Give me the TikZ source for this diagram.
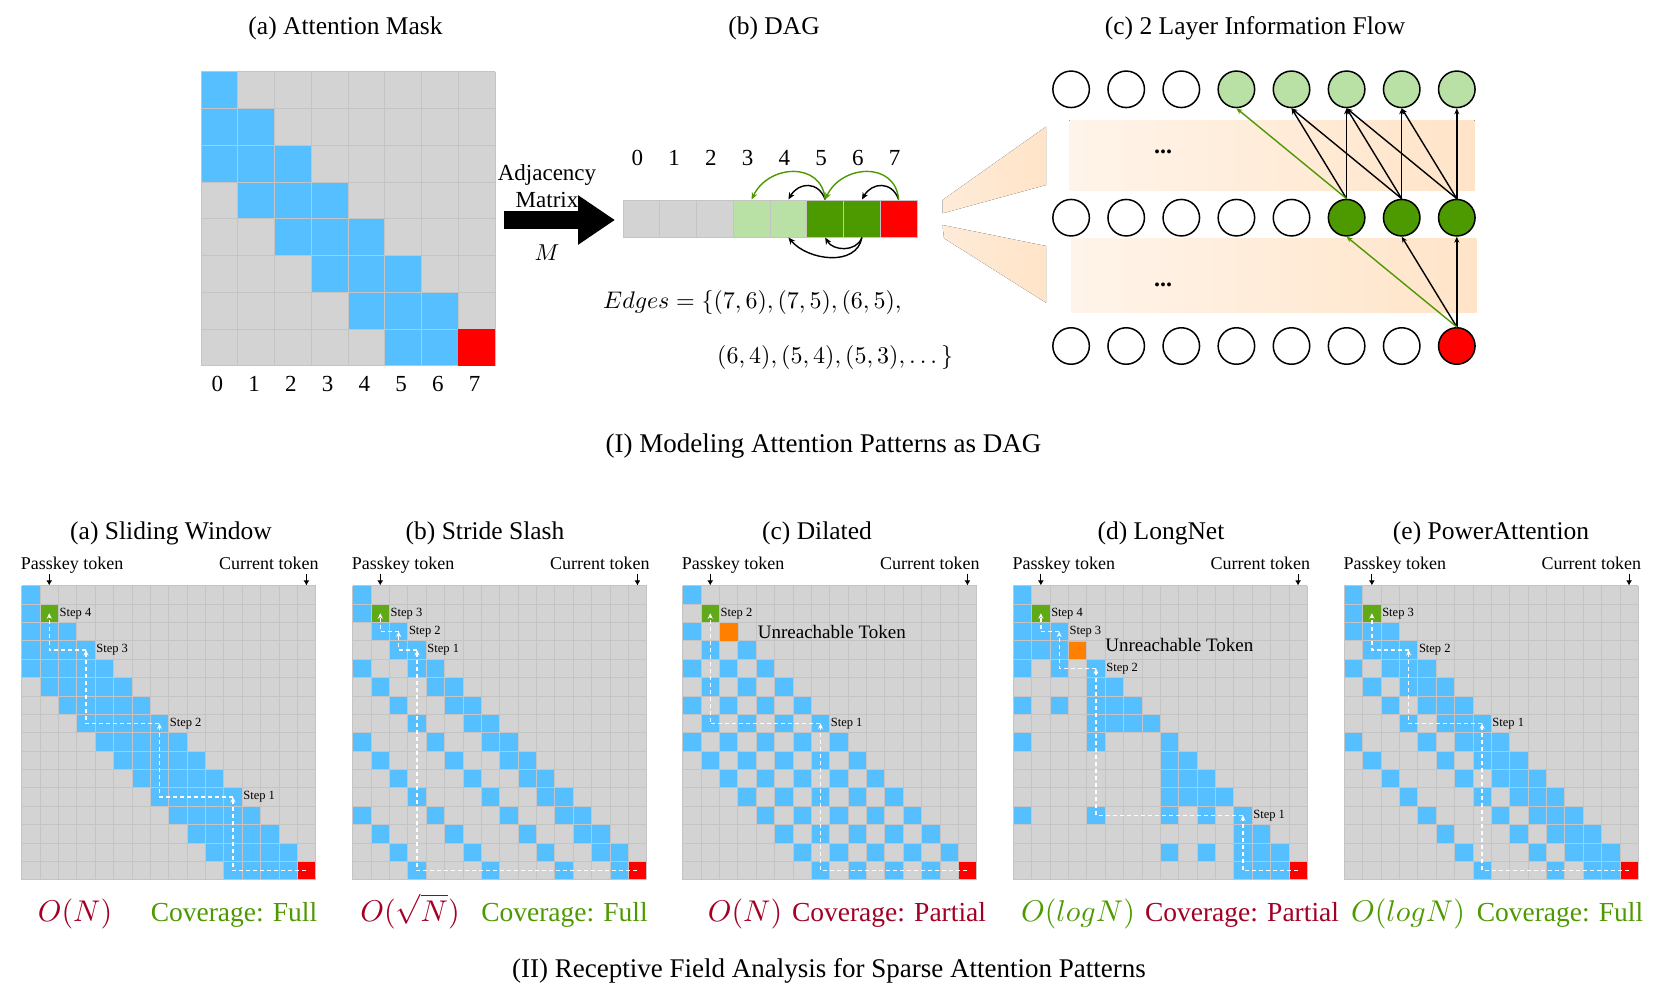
\RequirePackage{fix-cm}
\documentclass[tikz,border=0pt]{standalone}
\usepackage[no-math]{fontspec}
\setmainfont{Liberation Serif}
\usepackage{amsmath}
\usetikzlibrary{arrows.meta,positioning}
\DeclareFontShape{OML}{cmm}{m}{it}{<->cmmi10}{}
\DeclareFontShape{OT1}{cmr}{m}{n}{<->cmr10}{}

\definecolor{cellgray}{HTML}{D3D3D3}
\definecolor{linegray}{HTML}{C4C4C4}
\definecolor{attnblue}{HTML}{56BFFF}
\definecolor{stepgreen}{HTML}{60A917}
\definecolor{darkgreen}{HTML}{4D9900}
\definecolor{lightgreen}{HTML}{B9E0A5}
\definecolor{unreachorange}{HTML}{FF8000}
\definecolor{cplxred}{HTML}{A20025}
\definecolor{peach}{HTML}{FFE4C8}
\definecolor{peachpale}{HTML}{FFF4EA}
\definecolor{peachmid}{HTML}{FEEBD8}

\tikzset{
  every node/.append style={inner sep=0pt},
  ttl/.style={font=\fontsize{25.5}{30}\selectfont},
  sect/.style={font=\fontsize{27}{32}\selectfont},
  num/.style={font=\fontsize{23}{27}\selectfont},
  toklabel/.style={font=\fontsize{18}{21}\selectfont},
  steplabel/.style={font=\fontsize{12.5}{15}\selectfont, anchor=west, inner sep=1pt},
  unreach/.style={font=\fontsize{19}{22}\selectfont, anchor=west},
  cplx/.style={font=\fontsize{30}{34}\selectfont, anchor=base},
  cover/.style={font=\fontsize{27.5}{32}\selectfont, anchor=base},
  gridline/.style={draw=linegray, line width=0.7pt},
  tokencell/.style={rectangle, minimum size=18.37pt, draw=linegray, line width=0.6pt},
  trail/.style={draw=white, dash pattern=on 4pt off 3pt, line width=1.3pt, -{Stealth[length=5.5pt,width=5pt]}},
  tokarrow/.style={line width=1pt, -{Latex[length=5pt,width=6pt]}},
  dagcell/.style={rectangle, minimum width=36.75pt, minimum height=37pt, draw=linegray, line width=1pt},
  dagedge/.style={line width=1.4pt, -{Stealth[length=7pt,width=6pt]}},
  flownode/.style={circle, minimum size=36.5pt, draw=black, line width=1.5pt},
  flowedge/.style={line width=1.4pt, -{Stealth[length=6pt,width=5pt]}},
  bigarrow/.style={line width=18pt, -{Triangle[length=37pt,width=47pt]}}
}

\newcommand{\attngrid}[5]{%
  \begin{scope}[shift={#2}, x=#4pt, y=-#4pt]
    \fill[cellgray] (0,0) rectangle (#3,#3);
    \pgfmathtruncatemacro{\last}{#3-1}
    \foreach \r in {0,...,\last}{
      \foreach \c in {0,...,\last}{
        \coordinate (#1-\r-\c) at (\c+.5,\r+.5);
        \pgfmathtruncatemacro{\dd}{\r-\c}
        \pgfmathtruncatemacro{\hit}{#5}
        \ifnum\hit=1 \fill[attnblue] (\c,\r) rectangle ++(1,1);\fi
      }
    }
    \foreach \i in {0,...,#3}{
      \draw[gridline] (\i,0) -- (\i,#3);
      \draw[gridline] (0,\i) -- (#3,\i);
    }
  \end{scope}
}

\begin{document}
\begin{tikzpicture}[x=1pt, y=-1pt]
\useasboundingbox (0,0) rectangle (1661,998);

\node[ttl] (ttlmask) at (345.5,28.4) {(a) Attention Mask};
\node[ttl] (ttldag) at (774,28.4) {(b) DAG};
\node[ttl] (ttlflow) at (1255,28.4) {(c) 2 Layer Information Flow};

\attngrid{M}{(201,71.7)}{8}{36.75}{(\dd>=0)&&(\dd<=2)}
\node[rectangle, minimum size=36.75pt, fill=red] (mred) at (M-7-7) {};
\foreach \c in {0,...,7}
  \node[num] (mn\c) at ([shift={(-2,36.5)}]M-7-\c) {\c};

\coordinate (adjfrom) at (504,220);
\coordinate (adjto) at (615,220);
\draw[bigarrow] (adjfrom) -- (adjto);
\node[font=\fontsize{23}{27.5}\selectfont, align=center] (adjtxt) at (547,186) {Adjacency\\Matrix};
\node[font=\fontsize{23}{27}\selectfont] (adjm) at (547,253) {$M$};

\foreach \i/\col in {0/cellgray,1/cellgray,2/cellgray,3/lightgreen,4/lightgreen,5/darkgreen,6/darkgreen,7/red}
  \node[dagcell, fill=\col] (dag\i) at ({641.4+36.75*\i},218.5) {};
\foreach \i in {0,...,7}
  \node[num] (dagn\i) at ([shift={(-4,-60.5)}]dag\i) {\i};
\draw[dagedge] (dag7.north) to[out=110,in=60,looseness=1.4] (dag6.north);
\draw[dagedge, darkgreen] (dag7.north) to[out=95,in=65,looseness=1.35] (dag5.north);
\draw[dagedge] (dag5.north) to[out=110,in=60,looseness=1.4] (dag4.north);
\draw[dagedge, darkgreen] (dag5.north) to[out=95,in=65,looseness=1.35] (dag3.north);
\draw[dagedge] (dag6.south) to[out=-110,in=-60,looseness=1.1] (dag5.south);
\draw[dagedge] (dag6.south) to[out=-100,in=-50,looseness=1.05] (dag4.south);
\node[font=\fontsize{24}{28}\selectfont, anchor=west] (edges1) at (603,302) {$Edges=\{(7,6),(7,5),(6,5),$};
\node[font=\fontsize{24}{28}\selectfont, anchor=west] (edges2) at (717,357) {$(6,4),(5,4),(5,3),\dots\}$};

\fill[left color=peachpale, right color=peach] (1069.3,120) rectangle (1474.6,190);
\fill[left color=peachpale, right color=peach] (1071,238) rectangle (1476.4,312);
\fill[left color=peachmid, right color=peach] (942.5,200) -- (1046,126.7) -- (1046,185) -- (942.5,213.3) -- cycle;
\fill[left color=peachmid, right color=peach] (942.5,225) -- (1046,246) -- (1046,302.7) -- (944,238.3) -- cycle;
\node[font=\fontsize{24}{24}\selectfont\bfseries] (dots1) at (1163,152) {...};
\node[font=\fontsize{24}{24}\selectfont\bfseries] (dots2) at (1163,285) {...};
\foreach \k/\tc/\mc/\bc in {0/white/white/white,1/white/white/white,2/white/white/white,3/lightgreen/white/white,4/lightgreen/white/white,5/lightgreen/darkgreen/white,6/lightgreen/darkgreen/white,7/lightgreen/darkgreen/red}{
  \node[flownode, fill=\tc] (t\k) at ({1071.1+55.1*\k},89.3) {};
  \node[flownode, fill=\mc] (m\k) at ({1071.1+55.1*\k},217.7) {};
  \node[flownode, fill=\bc] (b\k) at ({1071.1+55.1*\k},346) {};
}
\foreach \a/\b in {5/4,5/5,6/4,6/5,6/6,7/5,7/6,7/7}
  \draw[flowedge] (m\a.north) -- (t\b.south);
\draw[flowedge, darkgreen] (m5.north) -- (t3.south);
\draw[flowedge] (b7.north) -- (m6.south);
\draw[flowedge] (b7.north) -- (m7.south);
\draw[flowedge, darkgreen] (b7.north) -- (m5.south);

\node[sect] (sec1) at (823.5,446) {(I) Modeling Attention Patterns as DAG};

\node[ttl] (A-ttl) at (171,533) {(a) Sliding Window};
\node[ttl] (B-ttl) at (485,533) {(b) Stride Slash};
\node[ttl] (C-ttl) at (817,533) {(c) Dilated};
\node[ttl] (D-ttl) at (1161,533) {(d) LongNet};
\node[ttl] (E-ttl) at (1491,533) {(e) PowerAttention};

\attngrid{A}{(21.7,585.7)}{16}{18.37}{(\dd>=0)&&(\dd<=4)}
\attngrid{B}{(352.7,585.7)}{16}{18.37}{(\dd>=0)&&((\dd<=1)||(mod(\dd,4)==0))}
\attngrid{C}{(682.7,585.7)}{16}{18.37}{(\dd>=0)&&(\dd<=8)&&(mod(\dd,2)==0)}
\attngrid{D}{(1013.3,585.7)}{16}{18.37}{(\dd>=0)&&((int(\r/4)==int(\c/4))||((int(\r/8)==int(\c/8))&&(mod(\r,2)==0)&&(mod(\c,2)==0))||((mod(\r,4)==0)&&(mod(\c,4)==0)))}
\attngrid{E}{(1344.3,585.7)}{16}{18.37}{(\dd==0)||(\dd==1)||(\dd==2)||(\dd==4)||(\dd==8)}

\foreach \g/\x in {A/21.7,B/352.7,C/682.7,D/1013.3,E/1344.3}{
  \node[toklabel, anchor=base west] (\g-pk) at (\x-1,569) {Passkey token};
  \node[toklabel, anchor=base east] (\g-ct) at (\x+297,569) {Current token};
  \draw[tokarrow] ([shift={(0,-21)}]\g-0-1) -- ([shift={(0,-9.5)}]\g-0-1);
  \draw[tokarrow] ([shift={(0,-21)}]\g-0-15) -- ([shift={(0,-9.5)}]\g-0-15);
  \node[tokencell, fill=stepgreen] (\g-tgt) at (\g-1-1) {};
  \node[tokencell, fill=red] (\g-cur) at (\g-15-15) {};
}
\node[tokencell, fill=unreachorange] (C-un) at (C-2-2) {};
\node[tokencell, fill=unreachorange] (D-un) at (D-3-3) {};

\draw[trail] (A-15-15) -| (A-11-11);
\draw[trail] (A-11-11) -| (A-7-7);
\draw[trail] (A-7-7) -| (A-3-3);
\draw[trail] (A-3-3) -| (A-1-1);
\node[steplabel] (A-s1) at ([shift={(9.2,0)}]A-11-11) {Step 1};
\node[steplabel] (A-s2) at ([shift={(9.2,0)}]A-7-7) {Step 2};
\node[steplabel] (A-s3) at ([shift={(9.2,0)}]A-3-3) {Step 3};
\node[steplabel] (A-s4) at ([shift={(9.2,0)}]A-1-1) {Step 4};

\draw[trail] (B-15-15) -| (B-3-3);
\draw[trail] (B-3-3) -| (B-2-2);
\draw[trail] (B-2-2) -| (B-1-1);
\node[steplabel] (B-s1) at ([shift={(9.2,0)}]B-3-3) {Step 1};
\node[steplabel] (B-s2) at ([shift={(9.2,0)}]B-2-2) {Step 2};
\node[steplabel] (B-s3) at ([shift={(9.2,0)}]B-1-1) {Step 3};

\draw[trail] (C-15-15) -| (C-7-7);
\draw[trail] (C-7-7) -| (C-1-1);
\node[steplabel] (C-s1) at ([shift={(9.2,0)}]C-7-7) {Step 1};
\node[steplabel] (C-s2) at ([shift={(9.2,0)}]C-1-1) {Step 2};
\node[unreach] (C-ut) at ([shift={(29,0)}]C-2-2) {Unreachable Token};

\draw[trail] (D-15-15) -| (D-12-12);
\draw[trail] (D-12-12) -| (D-4-4);
\draw[trail] (D-4-4) -| (D-2-2);
\draw[trail] (D-2-2) -| (D-1-1);
\node[steplabel] (D-s1) at ([shift={(9.2,0)}]D-12-12) {Step 1};
\node[steplabel] (D-s2) at ([shift={(9.2,0)}]D-4-4) {Step 2};
\node[steplabel] (D-s3) at ([shift={(9.2,0)}]D-2-2) {Step 3};
\node[steplabel] (D-s4) at ([shift={(9.2,0)}]D-1-1) {Step 4};
\node[unreach] (D-ut) at ([shift={(27.5,-5.5)}]D-3-3) {Unreachable Token};

\draw[trail] (E-15-15) -| (E-7-7);
\draw[trail] (E-7-7) -| (E-3-3);
\draw[trail] (E-3-3) -| (E-1-1);
\node[steplabel] (E-s1) at ([shift={(9.2,0)}]E-7-7) {Step 1};
\node[steplabel] (E-s2) at ([shift={(9.2,0)}]E-3-3) {Step 2};
\node[steplabel] (E-s3) at ([shift={(9.2,0)}]E-1-1) {Step 3};

\node[cplx, text=cplxred] (A-cx) at (75,921) {$O(N)$};
\node[cover, text=darkgreen] (A-cv) at (234,921) {Coverage: Full};
\node[cplx, text=cplxred] (B-cx) at (410,921) {$O(\sqrt{N})$};
\node[cover, text=darkgreen] (B-cv) at (564.5,921) {Coverage: Full};
\node[cplx, text=cplxred] (C-cx) at (745,921) {$O(N)$};
\node[cover, text=cplxred] (C-cv) at (889,921) {Coverage: Partial};
\node[cplx, text=darkgreen] (D-cx) at (1078,921) {$O(logN)$};
\node[cover, text=cplxred] (D-cv) at (1242,921) {Coverage: Partial};
\node[cplx, text=darkgreen] (E-cx) at (1408,921) {$O(logN)$};
\node[cover, text=darkgreen] (E-cv) at (1560,921) {Coverage: Full};

\node[sect] (sec2) at (829,971) {(II) Receptive Field Analysis for Sparse Attention Patterns};
\end{tikzpicture}
\end{document}
